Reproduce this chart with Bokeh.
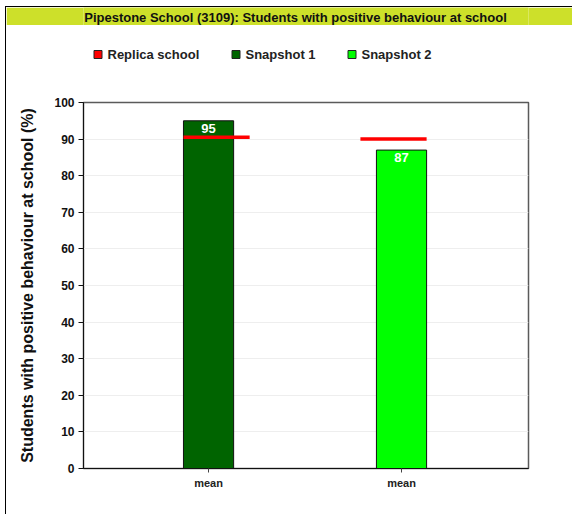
from bokeh.plotting import figure
from bokeh.models import Range1d, FixedTicker, ColumnDataSource
from bokeh.layouts import column
from bokeh.core.properties import value
from bokeh.embed import file_html
from bokeh.resources import INLINE

# ---- data ----
title_text = "Pipestone School (3109): Students with positive behaviour at school"
y_label = "Students with positive behaviour at school (%)"
categories = ["mean", "mean"]
series_names = ["Replica school", "Snapshot 1", "Snapshot 2"]
snapshot_values = [95, 87]
replica_values = [90.5, 90]
y_ticks = [0, 10, 20, 30, 40, 50, 60, 70, 80, 90, 100]

FONT = "Liberation Sans"
bar_colors = ["#006400", "#00ff00"]
replica_color = "#ff0000"
legend_colors = [replica_color] + bar_colors
banner_color = "#cde02a"

W = 566
BL, BR = 77, 44          # left/right borders shared by all three parts
FW = W - BL - BR         # frame width (445)
X0 = 6 + BL              # page x of frame left (83)

# ---- banner ----
BH = 18
banner = figure(width=W, height=BH, frame_width=FW, frame_height=BH,
                x_range=Range1d(X0, X0 + FW), y_range=Range1d(BH, 0),
                x_axis_type=None, y_axis_type=None, toolbar_location=None, output_backend="svg",
                min_border_left=BL, min_border_right=BR, min_border_top=0, min_border_bottom=0,
                border_fill_color=banner_color, background_fill_color=banner_color,
                outline_line_color=None)
banner.xgrid.visible = False
banner.ygrid.visible = False
banner.text(x=[295], y=[10], text=[title_text], text_font=value(FONT), text_font_size="13px",
            text_font_style="bold", text_align="center", text_baseline="middle",
            text_color="#111111")

# ---- legend strip ----
LH = 45
legfig = figure(width=W, height=LH, frame_width=FW, frame_height=LH,
                x_range=Range1d(X0, X0 + FW), y_range=Range1d(LH, 0),
                x_axis_type=None, y_axis_type=None, toolbar_location=None, output_backend="svg",
                min_border_left=BL, min_border_right=BR, min_border_top=0, min_border_bottom=0,
                outline_line_color=None)
legfig.xgrid.visible = False
legfig.ygrid.visible = False
leg_x = [93, 231, 347]
leg_src = ColumnDataSource(dict(x=[x + 4.5 for x in leg_x], y=[29] * 3, c=legend_colors,
                                tx=[x + 14 for x in leg_x], label=series_names))
legfig.rect(x="x", y="y", width=8, height=8, fill_color="c", line_color="#222222",
            line_width=1, source=leg_src)
legfig.text(x="tx", y="y", text="label", text_font=value(FONT), text_font_size="13px",
            text_font_style="bold", text_baseline="middle", text_color="#222222",
            source=leg_src)

# ---- main chart ----
MH = 444
xs = list(range(1, len(categories) + 1))
half_w = 0.13
ext = 0.083

p = figure(width=W, height=MH, frame_width=FW, frame_height=366,
           x_range=Range1d(0.352, 2.658), y_range=Range1d(0, 100),
           toolbar_location=None, output_backend="svg",
           min_border_left=BL, min_border_top=32, min_border_right=BR, min_border_bottom=46,
           outline_line_color="#5a5a5a", outline_line_width=1.5)

src = ColumnDataSource(dict(x=xs, top=snapshot_values, c=bar_colors,
                            lbl=[str(v) for v in snapshot_values]))
p.vbar(x="x", top="top", width=2 * half_w, bottom=0, fill_color="c",
       line_color="#111111", line_width=1, source=src)

rep_src = ColumnDataSource(dict(
    x0=[xs[0] - half_w, xs[1] - half_w - ext],
    x1=[xs[0] + half_w + ext, xs[1] + half_w],
    y=replica_values))
p.segment(x0="x0", y0="y", x1="x1", y1="y", line_color=replica_color, line_width=3.5,
          source=rep_src)

p.text(x="x", y="top", text="lbl", source=src, text_font=value(FONT), text_font_size="13px",
       text_font_style="bold", text_color="white", text_align="center", text_baseline="top",
       y_offset=3)

p.xgrid.visible = False
p.ygrid.grid_line_color = "#eeeeee"
p.ygrid.ticker = FixedTicker(ticks=y_ticks)

p.yaxis.ticker = FixedTicker(ticks=y_ticks)
p.yaxis.axis_label = y_label
p.yaxis.axis_label_text_font = FONT
p.yaxis.axis_label_text_font_size = "16px"
p.yaxis.axis_label_text_font_style = "bold"
p.yaxis.axis_label_text_color = "#111111"
p.yaxis.axis_label_standoff = 15
p.yaxis.major_label_text_font = FONT
p.yaxis.major_label_text_font_size = "12px"
p.yaxis.major_label_text_font_style = "bold"
p.yaxis.major_label_text_color = "#111111"
p.yaxis.major_label_standoff = 4
p.yaxis.major_tick_out = 5
p.yaxis.major_tick_in = 0
p.yaxis.minor_tick_out = 0
p.yaxis.minor_tick_in = 0
p.yaxis.axis_line_color = "#111111"
p.yaxis.major_tick_line_color = "#111111"

p.xaxis.ticker = FixedTicker(ticks=xs)
p.xaxis.major_label_overrides = {x: c for x, c in zip(xs, categories)}
p.xaxis.major_label_text_font = FONT
p.xaxis.major_label_text_font_size = "11px"
p.xaxis.major_label_text_font_style = "bold"
p.xaxis.major_label_text_color = "#222222"
p.xaxis.major_label_standoff = 4
p.xaxis.major_tick_out = 4
p.xaxis.major_tick_in = 0
p.xaxis.minor_tick_out = 0
p.xaxis.axis_line_color = "#111111"
p.xaxis.major_tick_line_color = "#444444"

layout = column(banner, legfig, p, spacing=0, margin=(6, 0, 0, 5),
                styles={"border-left": "1px solid black", "border-top": "1px solid black"})

open("out.html", "w").write(file_html(layout, INLINE))
